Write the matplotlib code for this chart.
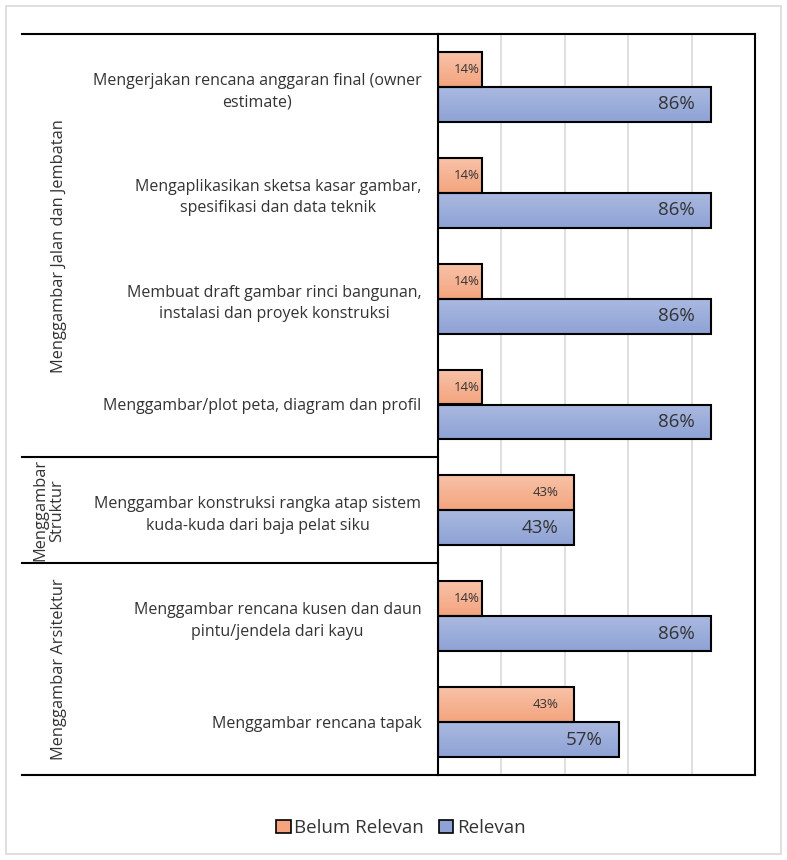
import numpy as np
import matplotlib
matplotlib.use("Agg")
import matplotlib.pyplot as plt
from matplotlib.patches import Rectangle, Patch
from matplotlib.colors import LinearSegmentedColormap

plt.rcParams['font.family'] = ['Open Sans', 'DejaVu Sans']

# data
tasks = [
    "Mengerjakan rencana anggaran final (owner\nestimate)",
    "Mengaplikasikan sketsa kasar gambar,\nspesifikasi dan data teknik",
    "Membuat draft gambar rinci bangunan,\ninstalasi dan proyek konstruksi",
    "Menggambar/plot peta, diagram dan profil",
    "Menggambar konstruksi rangka atap sistem\nkuda-kuda dari baja pelat siku",
    "Menggambar rencana kusen dan daun\npintu/jendela dari kayu",
    "Menggambar rencana tapak",
]
belum_relevan = [14, 14, 14, 14, 43, 14, 43]
relevan = [86, 86, 86, 86, 43, 86, 57]
groups = ["Menggambar Jalan dan Jembatan", "Menggambar\nStruktur", "Menggambar Arsitektur"]
group_sizes = [4, 1, 2]
series_names = ["Belum Relevan", "Relevan"]

orange_top, orange_bot = "#f8c2a8", "#f4a47e"
blue_top, blue_bot = "#aab9e0", "#8ea2d5"
text_col = "#333333"

W, H = 787, 860
fig = plt.figure(figsize=(W / 100, H / 100), dpi=100)

# light outer frame
fig.patches.append(Rectangle((6 / W, 6 / H), (W - 12) / W, (H - 12) / H,
                             transform=fig.transFigure, fill=False,
                             edgecolor="#d9d9d9", linewidth=1.2))

x0, x1, ytop, ybot = 438, 755, 34, 775
ax = fig.add_axes([x0 / W, (H - ybot) / H, (x1 - x0) / W, (ybot - ytop) / H])

y = np.arange(len(tasks))
h = 0.33


def gradient_bar(ax, left, width, bottom, height, c_top, c_bot):
    rect = Rectangle((left, bottom), width, height, facecolor="none",
                     edgecolor="black", linewidth=1.5, zorder=3)
    ax.add_patch(rect)
    cmap = LinearSegmentedColormap.from_list("g", [c_top, c_bot])
    grad = np.linspace(0, 1, 64).reshape(-1, 1)
    # y axis is inverted, so the top edge is bottom
    im = ax.imshow(grad, cmap=cmap, aspect="auto", zorder=2,
                   extent=[left, left + width, bottom + height, bottom],
                   origin="upper")
    im.set_clip_path(rect)


def label_x(v):
    # short bars get their label pushed against the end
    return v - 5 if v > 20 else v - 0.7


for i in range(len(tasks)):
    gradient_bar(ax, 0, belum_relevan[i], y[i] - h, h, orange_top, orange_bot)
    gradient_bar(ax, 0, relevan[i], y[i], h, blue_top, blue_bot)
    ax.text(label_x(belum_relevan[i]), y[i] - h / 2, f"{belum_relevan[i]}%",
            ha="right", va="center", fontsize=9.5, color=text_col, zorder=4)
    ax.text(label_x(relevan[i]), y[i] + h / 2, f"{relevan[i]}%",
            ha="right", va="center", fontsize=13.5, color=text_col, zorder=4)

ax.set_xlim(0, 100)
ax.set_ylim(len(tasks) - 0.5, -0.5)
ax.set_xticks([20, 40, 60, 80])
ax.tick_params(axis="x", length=0, labelbottom=False)
ax.grid(axis="x", color="#d9d9d9", linewidth=1.2, zorder=0)
ax.set_axisbelow(True)

ax.set_yticks(y)
ax.set_yticklabels(tasks, fontsize=11.5, color=text_col,
                   multialignment="center", linespacing=1.45)
ax.tick_params(axis="y", length=0, pad=12)

for s in ax.spines.values():
    s.set_color("black")
    s.set_linewidth(1.5)

# horizontal rules spanning the label columns
xl = (22 - x0) / (x1 - x0)
tr = ax.get_yaxis_transform()
bounds = np.cumsum([0] + group_sizes) - 0.5
for b in bounds:
    ax.plot([xl, 0], [b, b], color="black", linewidth=1.5,
            transform=tr, clip_on=False)

for g, lo, hi in zip(groups, bounds[:-1], bounds[1:]):
    gx = 59 - 10 * g.count("\n")
    ax.text((gx - x0) / (x1 - x0), (lo + hi) / 2, g, transform=tr,
            rotation=90, ha="center", va="center", fontsize=11.8,
            color=text_col, multialignment="center", linespacing=1.1)

handles = [Patch(facecolor=orange_bot, edgecolor="black", linewidth=1.2),
           Patch(facecolor=blue_bot, edgecolor="black", linewidth=1.2)]
fig.legend(handles, series_names, loc="center", ncol=2, frameon=False,
           bbox_to_anchor=(401 / W, (H - 828) / H), fontsize=13.5,
           handlelength=0.75, handleheight=0.75, handletextpad=0.2,
           columnspacing=0.8, labelcolor=text_col)

fig.savefig("out.png", dpi=100)
